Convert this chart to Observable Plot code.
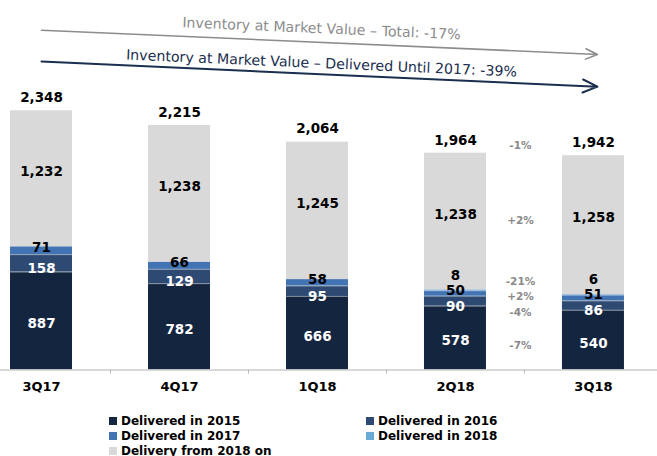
<!DOCTYPE html>
<html>
<head>
<meta charset="utf-8">
<script src="https://cdn.jsdelivr.net/npm/d3@7"></script>
<script src="https://cdn.jsdelivr.net/npm/@observablehq/plot@0.6"></script>
<style>
  html, body { margin: 0; padding: 0; background: #fff; }
  #chart svg { display: block; }
  #legend { display: grid; grid-template-columns: 257px 220px; padding-left: 109px; padding-top: 8.5px;
            font: bold 12px "DejaVu Sans", sans-serif; line-height: 15px; color: #000; }
  #legend .item { display: flex; align-items: center; white-space: nowrap; }
  #legend .sw { width: 8px; height: 8px; margin-right: 4px; flex: none; }
</style>
</head>
<body>
<div id="chart"></div>
<div id="legend"></div>
<script>
// ---- data ----
const quarters = ["3Q17", "4Q17", "1Q18", "2Q18", "3Q18"];
const series = ["Delivered in 2015", "Delivered in 2016", "Delivered in 2017", "Delivered in 2018", "Delivery from 2018 on"];
const colors = ["#14253f", "#2e4a72", "#4273b3", "#6aaad8", "#d9d9d9"];
const delivered2015 = [887, 782, 666, 578, 540];
const delivered2016 = [158, 129, 95, 90, 86];
const delivered2017 = [71, 66, 58, 50, 51];
const delivered2018 = [0, 0, 0, 8, 6];
const deliveryFrom2018 = [1232, 1238, 1245, 1238, 1258];
const totals = [2348, 2215, 2064, 1964, 1942];
const changeBySeries = ["-7%", "-4%", "+2%", "-21%", "+2%"]; // 3Q18 vs 2Q18
const changeTotal = "-1%";
const arrowNotes = [
  {label: "Inventory at Market Value \u2013 Total: -17%", from: 3078, to: 2860, color: "#8c8c8c", width: 1.6, dy: -13.5},
  {label: "Inventory at Market Value \u2013 Delivered Until 2017: -39%", from: 2794, to: 2568, color: "#1a2e4f", width: 2, dy: -10.5}
];

// ---- build table ----
const values = [delivered2015, delivered2016, delivered2017, delivered2018, deliveryFrom2018];
const rows = [];
quarters.forEach((q, i) => {
  let acc = 0;
  series.forEach((s, j) => {
    const v = values[j][i];
    rows.push({q, series: s, si: j, value: v, y1: acc, y2: acc + v});
    acc += v;
  });
});
const fmt = d3.format(",");
const labelFill = ["#fff", "#fff", "#000", "#000", "#000"];
const labelDy = [3, 5, -3, -15, -7];

const labelMarks = series.map((s, j) => Plot.text(rows.filter(d => d.si === j && d.value > 0), {
  x: "q", y: d => (d.y1 + d.y2) / 2, text: d => fmt(d.value),
  fill: labelFill[j], dy: labelDy[j], fontSize: 13.5, fontWeight: "bold"
}));
const pctMarks = series.map((s, j) => Plot.text(rows.filter(d => d.si === j && d.q === "3Q18"), {
  x: "q", y: d => (d.y1 + d.y2) / 2, text: () => changeBySeries[j],
  fill: "#8a8a8a", dx: -73, dy: labelDy[j] + 2, fontSize: 10.5, fontWeight: "bold"
}));
const seps = rows.filter(d => d.si < 3 && d.value > 0 && (d.si < 2 || values[3][quarters.indexOf(d.q)] > 0))
  .map(d => ({q: d.q, y: d.y2}));

const chart = Plot.plot({
  width: 657, height: 405,
  marginTop: 0, marginBottom: 35.5, marginLeft: 0, marginRight: 0,
  style: {fontFamily: "'DejaVu Sans', sans-serif", background: "#fff"},
  x: {domain: quarters, paddingInner: 0.5507, paddingOuter: 0.156, align: 0.2326, round: false, label: null},
  y: {domain: [0, 3347], axis: null},
  color: {domain: series, range: colors},
  marks: [
    Plot.barY(rows.filter(d => d.value > 0), {x: "q", y1: "y1", y2: "y2", fill: "series"}),
    Plot.tickY(seps, {x: "q", y: "y", stroke: "#fff", strokeOpacity: 0.45, strokeWidth: 1}),
    Plot.ruleY([0], {stroke: "#cccccc", strokeWidth: 1.5}),
    Plot.ruleX(quarters.slice(0, 4), {x: d => d, dx: 69, y1: 0, y2: -38, stroke: "#bbbbbb", strokeWidth: 1}),
    Plot.axisX({tickSize: 0, tickPadding: 12, fontSize: 13, fontWeight: "bold", fill: "#000"}),
    ...labelMarks,
    Plot.text(quarters, {x: d => d, y: (d, i) => totals[i], text: (d, i) => fmt(totals[i]), dy: -13, fontSize: 13.5, fontWeight: "bold", fill: "#000"}),
    ...pctMarks,
    Plot.text([changeTotal], {x: () => "3Q18", y: () => totals[4], text: d => d, dx: -73, dy: -10, fontSize: 10.5, fontWeight: "bold", fill: "#8a8a8a"}),
    ...arrowNotes.map(a => Plot.arrow([a], {x1: () => "3Q17", x2: () => "3Q18", y1: "from", y2: "to", stroke: a.color, strokeWidth: a.width, headLength: 12, headAngle: 48, insetEnd: -4})),
    ...arrowNotes.map(a => Plot.text([a], {x: () => "1Q18", y: d => (d.from + d.to) / 2, text: "label", rotate: 2.5, dx: 4, dy: a.dy, fill: a.color, fontSize: 14.2}))
  ]
});
document.getElementById("chart").appendChild(chart);

// ---- legend ----
const legend = d3.select("#legend");
series.forEach((s, j) => {
  const it = legend.append("div").attr("class", "item");
  it.append("span").attr("class", "sw").style("background", colors[j]);
  it.append("span").text(s);
});
</script>
</body>
</html>
